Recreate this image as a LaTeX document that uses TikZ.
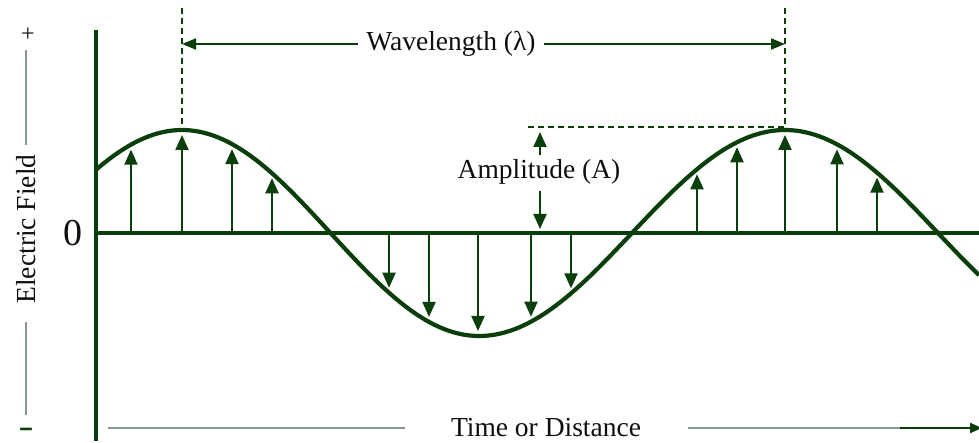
\documentclass[tikz,border=0pt]{standalone}
\usepackage{fontspec}
\setmainfont{Liberation Serif}
\usetikzlibrary{arrows.meta}
\definecolor{dg}{RGB}{10,62,10}
\definecolor{lg}{RGB}{140,152,140}
\definecolor{tx}{RGB}{15,15,15}
\begin{document}
\begin{tikzpicture}[x=1pt,y=-1pt,
  declare function={wv(\x)=233-103*cos(ifthenelse(\x<479,0.60606*(\x-182),180+0.588235*(\x-479)));},
  wave/.style={dg,line width=4.2pt},
  axisv/.style={dg,line width=4.5pt},
  axish/.style={dg,line width=3.2pt},
  varrow/.style={dg,line width=2pt,-{Triangle[width=13pt,length=15pt]}},
  dimarrow/.style={dg,line width=2pt,-{Triangle[width=11pt,length=14pt]}},
  dashline/.style={dg,line width=1.3pt,dash pattern=on 6pt off 4pt},
  gline/.style={lg,line width=2.2pt},
  lbl/.style={text=tx,font=\fontsize{27.5}{30}\selectfont,inner sep=3pt},
]
\useasboundingbox (0,0) rectangle (979,443);
% axes
\draw[axisv] (96,30) -- (96,441);
\draw[axish] (96,233) -- (979,233);
% wave
\draw[wave] plot[domain=96:979,samples=220] (\x,{wv(\x)});
% field arrows
\foreach \x in {131,182,232,272,697,737,785,837,877}
  \draw[varrow] (\x,233) -- (\x,{wv(\x)+5});
\foreach \x in {389,429,478,531,571}
  \draw[varrow] (\x,233) -- (\x,{wv(\x)-5});
% wavelength
\draw[dashline] (182,8) -- (182,127);
\draw[dashline] (785,8) -- (785,127);
\coordinate (wlL) at (182,44);
\coordinate (wlR) at (785,44);
\node[lbl,inner sep=8pt] (wl) at (451,44) {Wavelength (λ)};
\draw[dimarrow] (wl.west) -- (wlL);
\draw[dimarrow] (wl.east) -- (wlR);
% amplitude
\draw[dashline] (528,127) -- (785,127);
\node[lbl] (amp) at (539,172) {Amplitude (A)};
\coordinate (ampT) at (540,132);
\coordinate (ampB) at (540,229);
\draw[varrow] ([yshift=1pt]amp.north -| ampT) -- (ampT);
\draw[varrow] ([yshift=-3pt]amp.south -| ampB) -- (ampB);
% left labels
\node[text=tx,font=\fontsize{38}{40}\selectfont,inner sep=0pt] (zero) at (73,233) {0};
\node[lbl,rotate=90] (ef) at (26,229) {Electric Field};
\node[text=tx,font=\fontsize{24}{26}\selectfont,inner sep=0pt] (plus) at (28,35) {+};
\node[text=dg,font=\bfseries\fontsize{30}{32}\selectfont,inner sep=0pt] (minus) at (26,432) {\scalebox{1.5}[1]{-}};
\coordinate (g1) at (26,50);
\coordinate (g2) at (26,145);
\coordinate (g3) at (26,322);
\coordinate (g4) at (26,415);
\draw[gline] (g1) -- (g2);
\draw[gline] (g3) -- (g4);
% bottom
\node[lbl] (td) at (546,428) {Time or Distance};
\coordinate (b1) at (108,428);
\coordinate (b2) at (405,428);
\coordinate (b3) at (688,428);
\coordinate (b4) at (900,428);
\coordinate (b5) at (982,428);
\draw[gline] (b1) -- (b2);
\draw[gline] (b3) -- (b4);
\draw[dg,line width=2pt,-{Triangle[width=10pt,length=12pt]}] (b4) -- (b5);
\end{tikzpicture}
\end{document}
